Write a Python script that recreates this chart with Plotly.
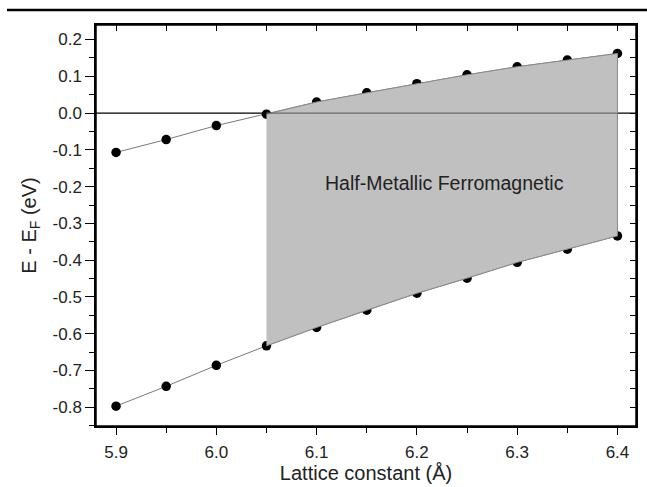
import plotly.graph_objects as go

lattice = [5.90, 5.95, 6.00, 6.05, 6.10, 6.15, 6.20, 6.25, 6.30, 6.35, 6.40]
upper_edge = [-0.107, -0.072, -0.034, -0.003, 0.030, 0.055, 0.080, 0.104, 0.126, 0.144, 0.162]
lower_edge = [-0.797, -0.743, -0.686, -0.633, -0.583, -0.536, -0.490, -0.449, -0.406, -0.370, -0.334]
hm_start = 3  # index where the half-metallic region begins (6.05)

y_ticks = [0.2, 0.1, 0.0, -0.1, -0.2, -0.3, -0.4, -0.5, -0.6, -0.7, -0.8]
x_ticks = [5.9, 6.0, 6.1, 6.2, 6.3, 6.4]

FONT = "Arial, Liberation Sans, sans-serif"
XR = [5.880, 6.4185]
YR = [-0.851, 0.2395]

fig = go.Figure()

marker = dict(color="black", size=9.5)
line_style = dict(color="#7a7a7a", width=1)

fig.add_trace(go.Scatter(x=lattice, y=lower_edge, mode="lines+markers",
                         line=line_style, marker=marker, showlegend=False))
fig.add_trace(go.Scatter(x=lattice, y=upper_edge, mode="lines+markers",
                         line=line_style, marker=marker, showlegend=False))

fx = lattice[hm_start:] + lattice[hm_start:][::-1]
fy = upper_edge[hm_start:] + lower_edge[hm_start:][::-1]
fig.add_trace(go.Scatter(x=fx, y=fy, mode="lines", fill="toself",
                         fillcolor="#c0c0c0", line=dict(color="#8a8a8a", width=1),
                         showlegend=False, hoverinfo="skip"))

# invisible trace for mirrored axes
fig.add_trace(go.Scatter(x=[XR[0]], y=[YR[0]], xaxis="x2", yaxis="y2",
                         mode="markers", marker=dict(opacity=0), showlegend=False,
                         hoverinfo="skip"))

# Fermi level line: black outside the region, grey where it crosses the shaded area
fig.add_shape(type="line", xref="paper", yref="y", x0=0, x1=1, y0=0, y1=0,
              line=dict(color="black", width=1.2), layer="below")
fig.add_shape(type="line", xref="x", yref="y", x0=lattice[hm_start], x1=lattice[-1], y0=0, y1=0,
              line=dict(color="#6a6a6a", width=1.2), layer="above")
# frame
fig.add_shape(type="rect", xref="paper", yref="paper", x0=0, x1=1, y0=0, y1=1,
              line=dict(color="black", width=1.5), fillcolor="rgba(0,0,0,0)", layer="above")
# header rule
fig.add_shape(type="line", xref="paper", yref="paper",
              x0=(7 - 96) / 540, x1=(647 - 96) / 540, y0=1 + 15 / 401, y1=1 + 15 / 401,
              line=dict(color="black", width=2.5))

fig.add_annotation(x=6.2275, y=-0.19, xref="x", yref="y", text="Half-Metallic Ferromagnetic",
                   showarrow=False, font=dict(family=FONT, size=19.5, color="#222"))

axis_common = dict(showgrid=False, zeroline=False, showline=True, linecolor="black",
                   linewidth=1.5, mirror=False, automargin=False)

fig.update_layout(
    width=647, height=487,
    margin=dict(l=96, r=11, t=25, b=61),
    paper_bgcolor="white", plot_bgcolor="white",
    font=dict(family=FONT, size=17, color="#222"),
    xaxis=dict(range=XR, tickvals=x_ticks, ticktext=[f"{v:.1f}" for v in x_ticks],
               ticks="outside", ticklen=7, tickwidth=1.2, tickcolor="black",
               ticklabelstandoff=3,
               minor=dict(dtick=0.05, tick0=5.9, ticks="outside", ticklen=5, tickwidth=1.2,
                          tickcolor="black"),
               title=dict(text="Lattice constant (Å)", font=dict(size=20), standoff=1),
               **axis_common),
    yaxis=dict(range=YR, tickvals=y_ticks, ticktext=[f"{v:.1f}".replace("-0.0", "0.0") for v in y_ticks],
               ticks="outside", ticklen=9, tickwidth=1.2, tickcolor="black",
               minor=dict(dtick=0.05, tick0=0.0, ticks="outside", ticklen=5, tickwidth=1.2,
                          tickcolor="black"),
               title=dict(text="E - E<sub>F</sub> (eV)", font=dict(size=20), standoff=11),
               **axis_common),
    xaxis2=dict(overlaying="x", side="top", range=XR, tick0=5.9, dtick=0.05,
                ticks="inside", ticklen=6, tickwidth=1.2, tickcolor="black",
                showticklabels=False, **axis_common),
    yaxis2=dict(overlaying="y", side="right", range=YR, tick0=0.0, dtick=0.05,
                ticks="inside", ticklen=6, tickwidth=1.2, tickcolor="black",
                showticklabels=False, **axis_common),
)

fig.write_html("out.html", config={"displayModeBar": False},
               post_script="document.body.style.margin='0';")
